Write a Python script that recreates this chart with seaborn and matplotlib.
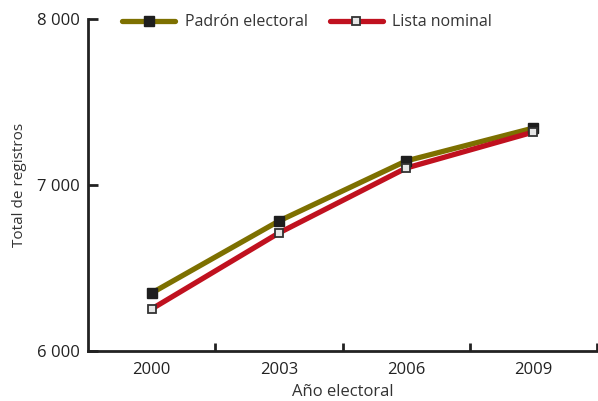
import matplotlib.pyplot as plt
import pandas as pd
import seaborn as sns
from matplotlib.ticker import FixedLocator

# datos (miles de registros)
anios = ["2000", "2003", "2006", "2009"]
padron = [6349, 6783, 7145, 7343]
lista = [6253, 6711, 7102, 7319]
series = ["Padrón electoral", "Lista nominal"]

df = pd.DataFrame({
    "anio": list(range(len(anios))) * 2,
    "valor": padron + lista,
    "serie": [series[0]] * len(anios) + [series[1]] * len(anios),
})

sns.set_style("ticks")
plt.rcParams["font.family"] = ["Open Sans", "DejaVu Sans"]

fig = plt.figure(figsize=(5.98, 4.01), dpi=100)
ax = fig.add_axes([88 / 598, 1 - 351 / 401, 509 / 598, 332 / 401])

colores = {series[0]: "#7d7000", series[1]: "#c0111f"}
sns.lineplot(data=df, x="anio", y="valor", hue="serie", palette=colores,
             linewidth=3.8, legend=False, ax=ax)

# marcadores
ax.plot(range(len(anios)), padron, ls="none", marker="s", ms=6.5,
        mfc="#1e1e1e", mec="#1e1e1e", zorder=5)
ax.plot(range(len(anios)), lista, ls="none", marker="s", ms=6,
        mfc="#e6e6e6", mec="#333333", mew=1.3, zorder=5)

ax.set_xlim(-0.5, 3.5)
ax.set_ylim(6000, 8000)
ax.set_xticks(range(len(anios)))
ax.set_xticklabels(anios)
ax.xaxis.set_minor_locator(FixedLocator([0.5, 1.5, 2.5, 3.5]))
ax.tick_params(axis="x", which="major", length=0, labelsize=12, pad=8, colors="#222222")
ax.tick_params(axis="x", which="minor", direction="in", length=6, width=2, color="#222222")
ax.set_yticks([6000, 7000, 8000])
ax.set_yticklabels(["6 000", "7 000", "8 000"])
ax.tick_params(axis="y", direction="in", length=7, width=2, labelsize=12,
               colors="#222222", pad=6)

for s in ["top", "right"]:
    ax.spines[s].set_visible(False)
for s in ["left", "bottom"]:
    ax.spines[s].set_linewidth(2)
    ax.spines[s].set_color("#222222")

ax.set_xlabel("Año electoral", fontsize=12, color="#333333", labelpad=4)
ax.set_ylabel("Total de registros", fontsize=11, color="#333333", labelpad=7)

# leyenda
h1, = ax.plot([], [], color=colores[series[0]], lw=3.8, marker="s", ms=6.5,
              mfc="#1e1e1e", mec="#1e1e1e")
h2, = ax.plot([], [], color=colores[series[1]], lw=3.8, marker="s", ms=6,
              mfc="#e6e6e6", mec="#333333", mew=1.3)
leg = ax.legend([h1, h2], series, loc="center", bbox_to_anchor=(0.431, 0.99),
                ncol=2, frameon=False, handlelength=3.3, columnspacing=1.4,
                handletextpad=0.6, fontsize=11.5)
for t in leg.get_texts():
    t.set_color("#333333")

fig.savefig("out.png", dpi=100)
